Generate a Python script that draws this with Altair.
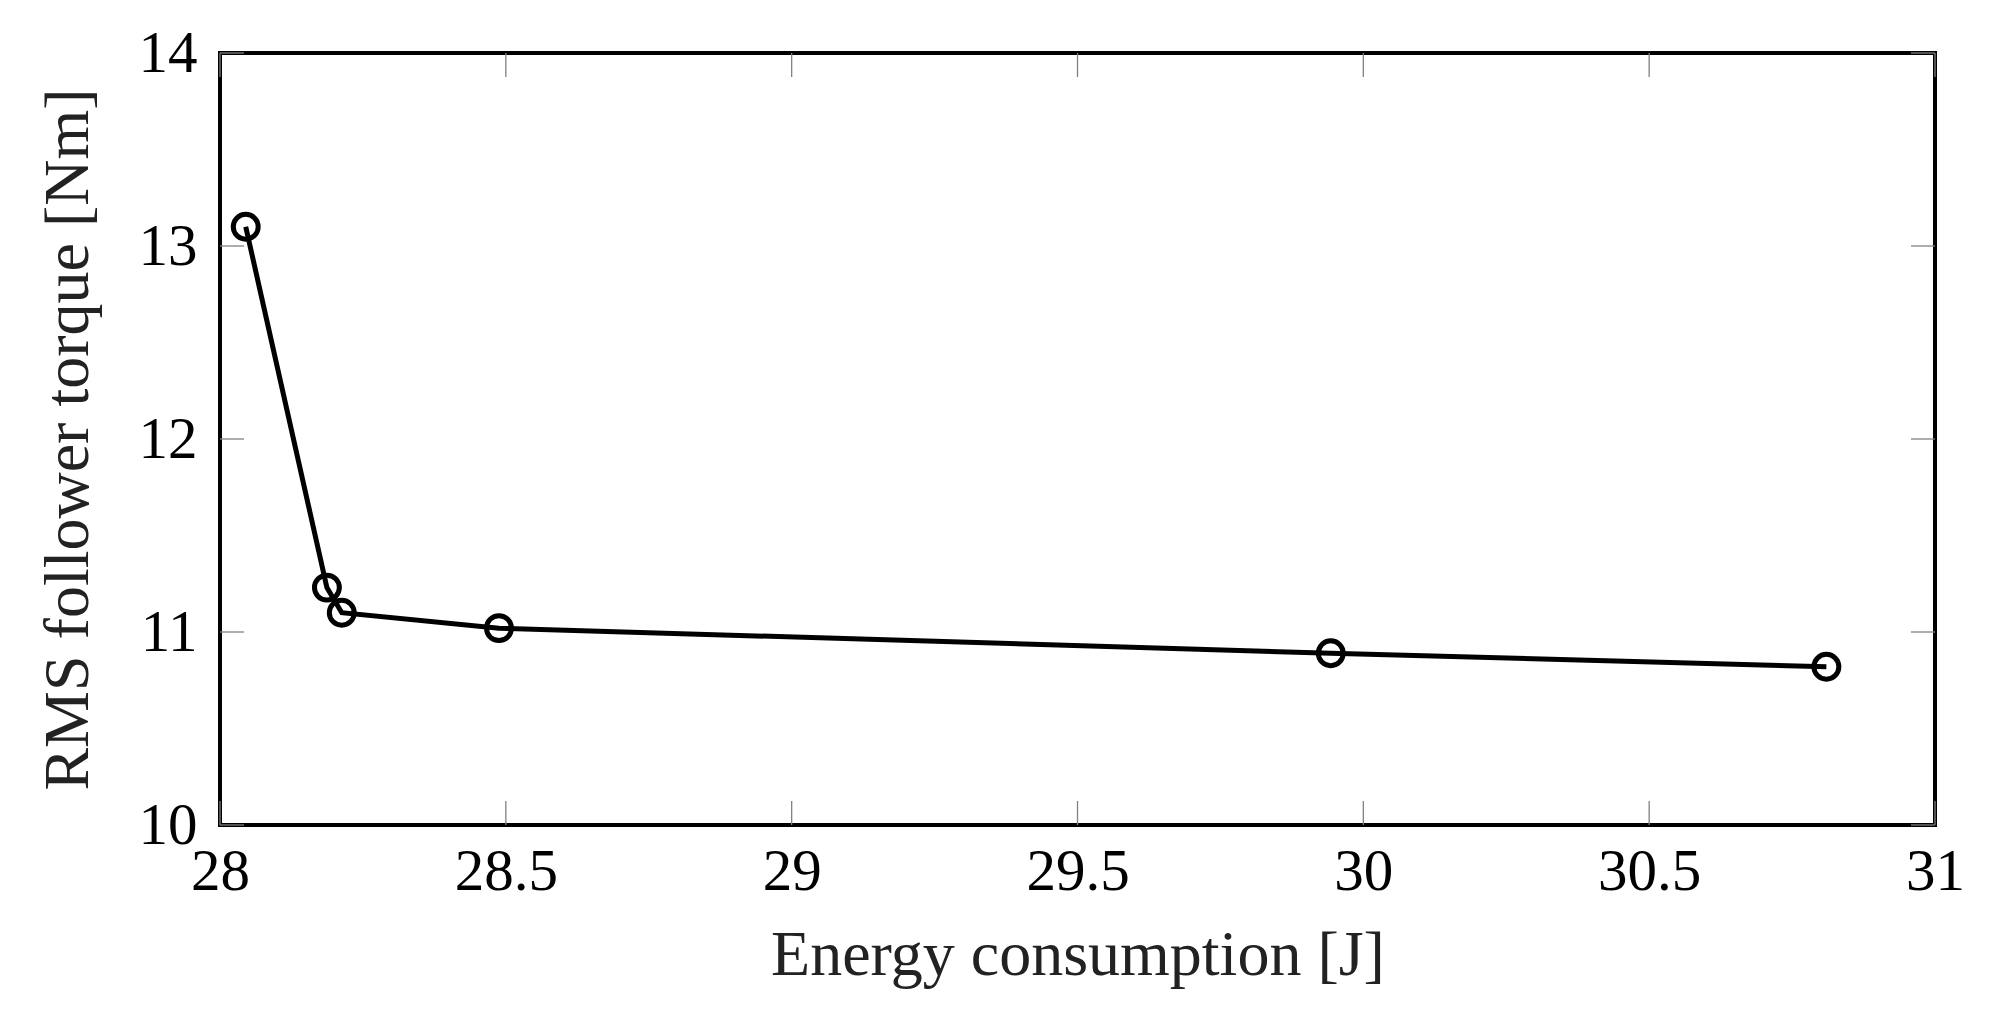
import altair as alt
import pandas as pd

energy = [28.045, 28.187, 28.213, 28.488, 29.943, 30.81]
torque = [13.10, 11.23, 11.10, 11.02, 10.89, 10.82]
x_ticks = [28, 28.5, 29, 29.5, 30, 30.5, 31]
y_ticks = [10, 11, 12, 13, 14]

W, H = 1715, 772
TL = 24
FONT = "Liberation Serif"

df = pd.DataFrame({"energy": energy, "torque": torque})
xt = pd.DataFrame({"v": x_ticks})
yt = pd.DataFrame({"v": y_ticks})

xscale = alt.Scale(domain=[28, 31], nice=False, zero=False)
yscale = alt.Scale(domain=[10, 14], nice=False, zero=False)

xaxis = alt.Axis(values=x_ticks, title="Energy consumption [J]", ticks=False, domain=False, grid=False,
                 labelFont=FONT, labelFontSize=59, labelColor="black", labelPadding=17,
                 labelExpr="datum.value", titleFont=FONT, titleFontSize=64, titleFontWeight="normal",
                 titleColor="#222222", titlePadding=22, labelFlush=False, labelOverlap=False)
yaxis = alt.Axis(values=y_ticks, title="RMS follower torque [Nm]", ticks=False, domain=False, grid=False,
                 labelFont=FONT, labelFontSize=59, labelColor="black", labelPadding=23,
                 labelExpr="datum.value", titleFont=FONT, titleFontSize=64, titleFontWeight="normal",
                 titleColor="#222222", titlePadding=38, labelFlush=False, labelOverlap=False)

line = alt.Chart(df).mark_line(color="black", strokeWidth=5).encode(
    x=alt.X("energy:Q", scale=xscale, axis=xaxis),
    y=alt.Y("torque:Q", scale=yscale, axis=yaxis),
)
pts = alt.Chart(df).mark_point(shape="circle", filled=False, color="black", strokeWidth=5, size=620, opacity=1).encode(
    x=alt.X("energy:Q", scale=xscale),
    y=alt.Y("torque:Q", scale=yscale),
)

tick_style = dict(color="#808080", strokeWidth=1.3)
bt = alt.Chart(xt).mark_rule(**tick_style).encode(
    x=alt.X("v:Q", scale=xscale), y=alt.value(H), y2=alt.value(H - TL))
tt = alt.Chart(xt).mark_rule(**tick_style).encode(
    x=alt.X("v:Q", scale=xscale), y=alt.value(0), y2=alt.value(TL))
lt = alt.Chart(yt).mark_rule(**tick_style).encode(
    y=alt.Y("v:Q", scale=yscale), x=alt.value(0), x2=alt.value(TL))
rt = alt.Chart(yt).mark_rule(**tick_style).encode(
    y=alt.Y("v:Q", scale=yscale), x=alt.value(W), x2=alt.value(W - TL))

chart = alt.layer(bt, tt, lt, rt, line, pts).properties(
    width=W, height=H,
    autosize=alt.AutoSizeParams(type="none"),
    padding={"left": 212, "top": 45, "right": 40, "bottom": 170},
    background="white",
).configure_view(stroke="black", strokeWidth=4)

chart.save("out.html", embed_options={"renderer": "svg", "actions": False})
